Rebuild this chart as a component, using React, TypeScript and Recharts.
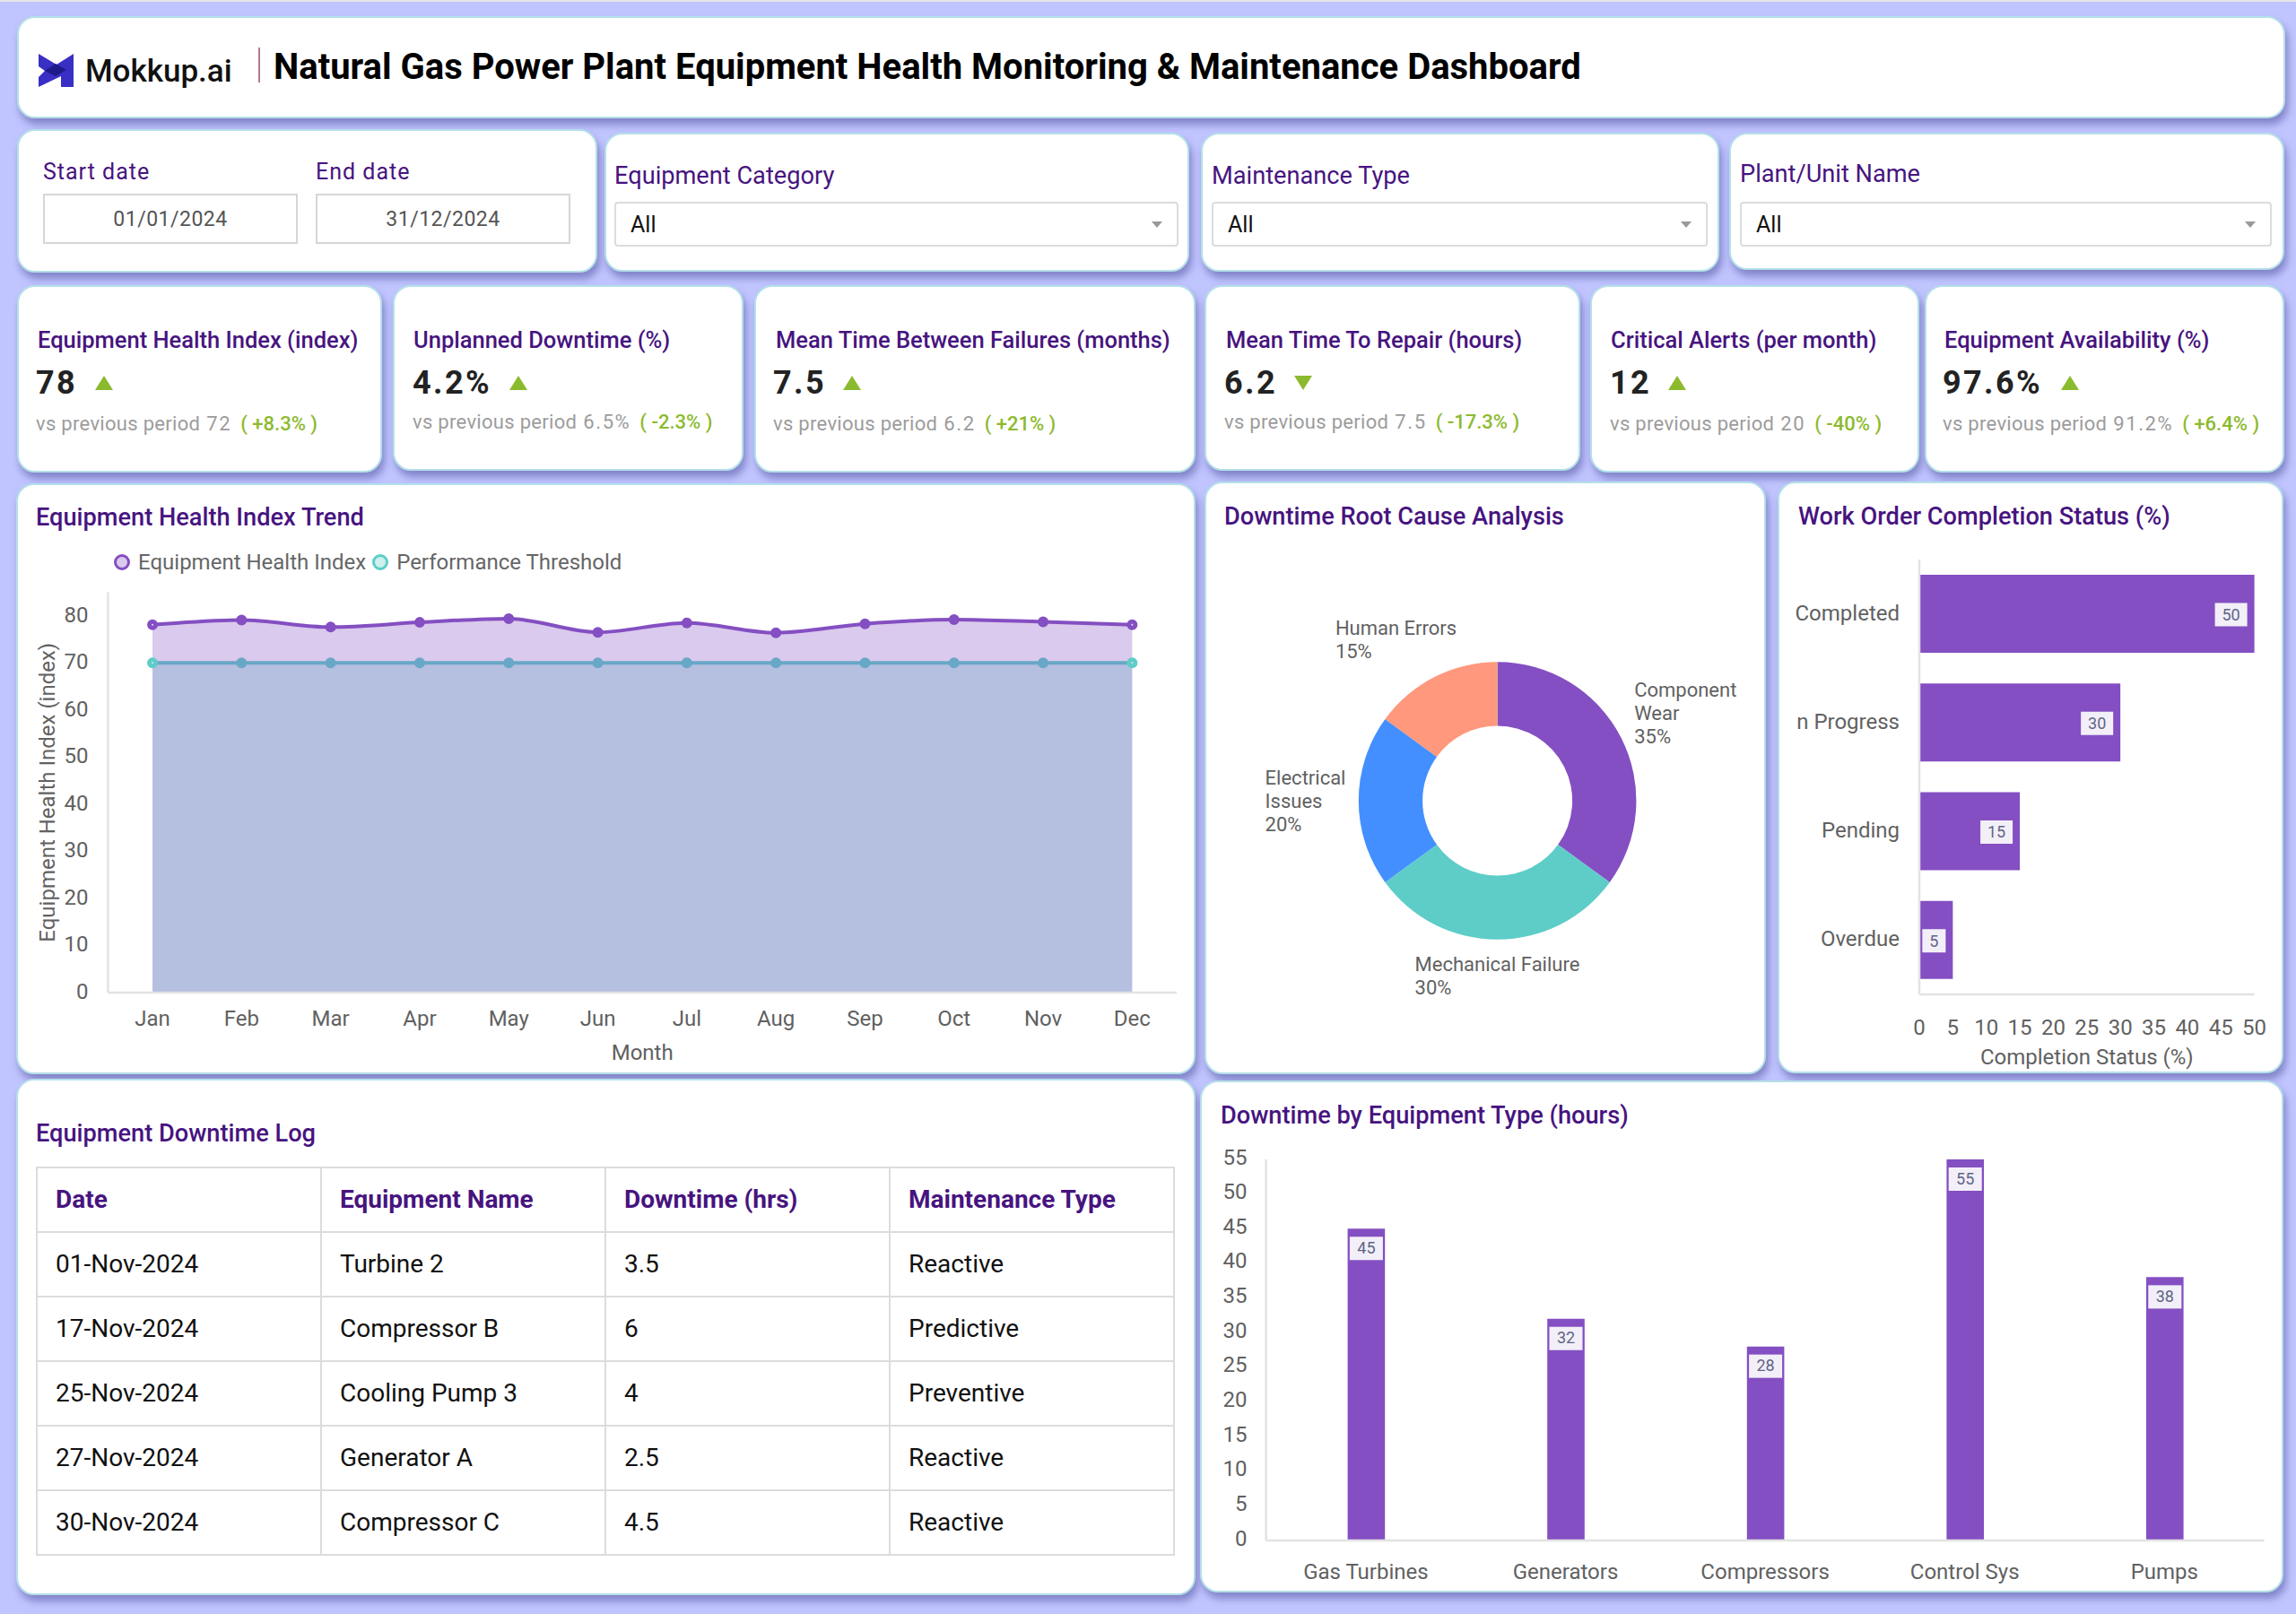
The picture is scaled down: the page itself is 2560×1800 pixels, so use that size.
import React from "react";
import {
  AreaChart,
  Area,
  BarChart,
  Bar,
  PieChart,
  Pie,
  Cell,
  XAxis,
  YAxis,
  Legend,
  LabelList,
} from "recharts";

const months = ["Jan", "Feb", "Mar", "Apr", "May", "Jun", "Jul", "Aug", "Sep", "Oct", "Nov", "Dec"];
const healthIndex = [78.1, 79.1, 77.6, 78.6, 79.4, 76.5, 78.5, 76.4, 78.3, 79.2, 78.7, 78.1];
const threshold = [70, 70, 70, 70, 70, 70, 70, 70, 70, 70, 70, 70];
const healthTicks = [0, 10, 20, 30, 40, 50, 60, 70, 80];

const causeNames = ["Component Wear", "Mechanical Failure", "Electrical Issues", "Human Errors"];
const causeLines = [["Component", "Wear"], ["Mechanical Failure"], ["Electrical", "Issues"], ["Human Errors"]];
const causeValues = [35, 30, 20, 15];

const orderStatus = ["Completed", "n Progress", "Pending", "Overdue"];
const orderValues = [50, 30, 15, 5];
const orderTicks = [0, 5, 10, 15, 20, 25, 30, 35, 40, 45, 50];

const equipmentTypes = ["Gas Turbines", "Generators", "Compressors", "Control Sys", "Pumps"];
const equipmentHours = [45, 32, 28, 55, 38];
const hourTicks = [0, 5, 10, 15, 20, 25, 30, 35, 40, 45, 50, 55];

const logHeaders = ["Date", "Equipment Name", "Downtime (hrs)", "Maintenance Type"];
const logRows = [
  ["01-Nov-2024", "Turbine 2", "3.5", "Reactive"],
  ["17-Nov-2024", "Compressor B", "6", "Predictive"],
  ["25-Nov-2024", "Cooling Pump 3", "4", "Preventive"],
  ["27-Nov-2024", "Generator A", "2.5", "Reactive"],
  ["30-Nov-2024", "Compressor C", "4.5", "Reactive"],
];

const kpis = [
  { title: "Equipment Health Index (index)", value: "78", up: true, prev: "72", delta: "+8.3%" },
  { title: "Unplanned Downtime (%)", value: "4.2%", up: true, prev: "6.5%", delta: "-2.3%" },
  { title: "Mean Time Between Failures (months)", value: "7.5", up: true, prev: "6.2", delta: "+21%" },
  { title: "Mean Time To Repair (hours)", value: "6.2", up: false, prev: "7.5", delta: "-17.3%" },
  { title: "Critical Alerts (per month)", value: "12", up: true, prev: "20", delta: "-40%" },
  { title: "Equipment Availability (%)", value: "97.6%", up: true, prev: "91.2%", delta: "+6.4%" },
];
// card box and text offsets of each kpi
const kpiBoxes = [
  { x: 20, w: 404, y: 319, h: 207, tx: 42, vx: 40, tri: 116, ty: 379, vy: 428, py: 473 },
  { x: 439, w: 388, y: 319, h: 205, tx: 461, vx: 460, tri: 578, ty: 379, vy: 428, py: 471 },
  { x: 842, w: 489, y: 319, h: 207, tx: 865, vx: 862, tri: 950, ty: 379, vy: 428, py: 473 },
  { x: 1344, w: 416, y: 319, h: 205, tx: 1367, vx: 1365, tri: 1453, ty: 379, vy: 428, py: 471 },
  { x: 1774, w: 364, y: 319, h: 207, tx: 1796, vx: 1795, tri: 1870, ty: 379, vy: 428, py: 473 },
  { x: 2147, w: 398, y: 319, h: 207, tx: 2168, vx: 2166, tri: 2308, ty: 379, vy: 428, py: 473 },
];

const PURPLE = "#844fc2";
const TEAL = "#5ecdc8";
const TEAL_UNDER = "#69a7c6"; // teal seen through the purple area
const NAVY = "#47147f";
const AXIS = "#e3e3e3";
const TICK = "#616161";
const FONT = "Roboto, sans-serif";
const THRESHOLD_LINE = "thresholdLine";
const causeColors = [PURPLE, TEAL, "#448fff", "#ff987c"];

const healthData = months.map((m, i) => ({ month: m, health: healthIndex[i], threshold: threshold[i] }));
const causeData = causeNames.map((n, i) => ({ name: n, value: causeValues[i] }));
const orderData = orderStatus.map((n, i) => ({ name: n, value: orderValues[i] }));
const hourData = equipmentTypes.map((n, i) => ({ name: n, value: equipmentHours[i] }));

function Card({ x, y, w, h }: any) {
  return (
    <div
      style={{
        position: "absolute",
        left: x - 1,
        top: y - 1,
        width: w + 3,
        height: h + 2,
        boxSizing: "border-box",
        background: "#fff",
        borderRadius: 20,
        border: "2px solid #b4e0e8",
        boxShadow: "3px 7px 9px rgba(90,90,165,0.6)",
      }}
    />
  );
}

function Txt({ x, y, size, color, weight, spacing, children, center }: any) {
  return (
    <div
      style={{
        position: "absolute",
        left: x,
        top: y,
        transform: center ? "translate(-50%,-50%)" : "translateY(-50%)",
        fontSize: size,
        color,
        fontWeight: weight || 400,
        letterSpacing: spacing || 0,
        whiteSpace: "nowrap",
        lineHeight: 1.2,
      }}
    >
      {children}
    </div>
  );
}

function Select({ label, labelY, x, w }: any) {
  return (
    <>
      <Txt x={x} y={labelY} size={27.2} color={NAVY}>{label}</Txt>
      <div
        style={{
          position: "absolute",
          left: x,
          top: 225,
          width: w,
          height: 50,
          boxSizing: "border-box",
          border: "2px solid #dcdcdc",
          borderRadius: 4,
        }}
      />
      <Txt x={x + 18} y={251} size={25} color="#111">All</Txt>
      <div
        style={{
          position: "absolute",
          left: x + w - 30,
          top: 247,
          width: 0,
          height: 0,
          borderLeft: "6px solid transparent",
          borderRight: "6px solid transparent",
          borderTop: "7px solid #999",
        }}
      />
    </>
  );
}

function Triangle({ x, y, up }: any) {
  const side = { borderLeft: "10px solid transparent", borderRight: "10px solid transparent" };
  const tip = up ? { borderBottom: "16px solid #8cba2e" } : { borderTop: "16px solid #8cba2e" };
  return <div style={{ position: "absolute", left: x - 10, top: y - 9, width: 0, height: 0, ...side, ...tip }} />;
}

function Kpi({ kpi, box }: any) {
  return (
    <>
      <Card x={box.x} y={box.y} w={box.w} h={box.h} />
      <Txt x={box.tx} y={box.ty} size={25.5} color={NAVY} weight={500}>{kpi.title}</Txt>
      <Txt x={box.vx} y={box.vy} size={36} color="#222" weight={700} spacing={2.4}>{kpi.value}</Txt>
      <Triangle x={box.tri} y={box.vy} up={kpi.up} />
      <Txt x={box.vx} y={box.py} size={22} color="#9c9c9c" spacing={0.3}>
        vs previous period
        <span style={{ marginLeft: 7, letterSpacing: 1.6 }}>{kpi.prev}</span>
        <span style={{ color: "#8cba2e", fontWeight: 500, fontSize: 22, marginLeft: 10, letterSpacing: 0 }}>( {kpi.delta} )</span>
      </Txt>
    </>
  );
}

function Logo() {
  return (
    <svg style={{ position: "absolute", left: 43, top: 60 }} width="40" height="37" viewBox="0 0 40 37">
      <path d="M0 0 L20 12 L39 0 V37 H25 V25 L0 37 V26 L7 19 L0 14 Z" fill="#3a2fc4" />
      <path d="M19 11 L31 18 L19 25 L7 19 Z" fill="#1e1a8a" />
    </svg>
  );
}

// legend drawn as two ringed dots with their series names
function HealthLegend({ payload }: any) {
  const items = (payload || []).filter((p: any) => p.value !== THRESHOLD_LINE);
  return (
    <div style={{ display: "flex", alignItems: "center", fontFamily: FONT, fontSize: 24, color: "#666", whiteSpace: "nowrap" }}>
      {items.map((p: any) => (
        <span key={p.value} style={{ display: "flex", alignItems: "center", marginRight: 6 }}>
          <svg width="20" height="20" style={{ marginRight: 8 }}>
            <circle cx="10" cy="10" r="7.5" fill={p.color} fillOpacity={0.3} stroke={p.color} strokeWidth={3} />
          </svg>
          {p.value}
        </span>
      ))}
    </div>
  );
}

function seriesDot(color: string, edgeColor: string) {
  return (props: any) => {
    const edge = props.index === 0 || props.index === months.length - 1;
    return (
      <circle
        key={props.index}
        cx={props.cx}
        cy={props.cy}
        r={3.5}
        fill={edge ? "#e8e0f5" : color}
        stroke={edge ? edgeColor : color}
        strokeWidth={5}
      />
    );
  };
}

function HealthChart() {
  return (
    <AreaChart
      width={1310}
      height={555}
      data={healthData}
      margin={{ top: 20.5, right: 18, bottom: 0, left: 0 }}
      style={{ position: "absolute", left: 20, top: 640 }}
    >
      <XAxis
        dataKey="month"
        height={88}
        padding={{ left: 49.65, right: 49.65 }}
        stroke={AXIS}
        strokeWidth={2.5}
        tickLine={false}
        tickMargin={14}
        tick={{ fill: TICK, fontSize: 24, fontFamily: FONT }}
        interval={0}
        label={{ value: "Month", position: "insideBottom", offset: 13, fill: TICK, fontSize: 24, fontFamily: FONT }}
      />
      <YAxis
        width={100.4}
        domain={[0, 85]}
        ticks={healthTicks}
        stroke={AXIS}
        strokeWidth={2.5}
        tickLine={false}
        tickMargin={16}
        tick={{ fill: TICK, fontSize: 24, fontFamily: FONT, dy: -1.5 }}
        label={{
          value: "Equipment Health Index (index)",
          angle: -90,
          position: "insideLeft",
          offset: 32,
          style: { textAnchor: "middle" },
          fill: TICK,
          fontSize: 24,
          fontFamily: FONT,
        }}
      />
      <Legend
        layout="horizontal"
        verticalAlign="middle"
        align="center"
        content={<HealthLegend />}
        wrapperStyle={{ left: 106, top: -27, width: 700 }}
      />
      <Area
        dataKey="threshold"
        name="Performance Threshold"
        type="monotone"
        stroke="none"
        fill={TEAL}
        fillOpacity={0.32}
        dot={false}
        isAnimationActive={false}
      />
      <Area
        dataKey="health"
        name="Equipment Health Index"
        type="monotone"
        stroke={PURPLE}
        strokeWidth={4}
        fill={PURPLE}
        fillOpacity={0.3}
        dot={seriesDot(PURPLE, PURPLE)}
        isAnimationActive={false}
      />
      <Area
        dataKey="threshold"
        name={THRESHOLD_LINE}
        legendType="none"
        type="monotone"
        stroke={TEAL_UNDER}
        strokeWidth={4}
        fill="none"
        dot={seriesDot(TEAL_UNDER, TEAL)}
        isAnimationActive={false}
      />
    </AreaChart>
  );
}

const RADIAN = Math.PI / 180;
// label offsets around the ring, per slice
const labelRadius = [215, 195, 215, 202];
const labelBlock = [78, 184, 88, 178];

function causeLabel(props: any) {
  const { cx, cy, midAngle, index } = props;
  const r = labelRadius[index];
  const left = cx + r * Math.cos(-midAngle * RADIAN) - labelBlock[index] / 2;
  const lines = [...causeLines[index], causeValues[index] + "%"];
  const top = cy + r * Math.sin(-midAngle * RADIAN) - ((lines.length - 1) * 26) / 2;
  return (
    <text x={left} y={top} fill={TICK} fontSize={22} fontFamily={FONT} dominantBaseline="central">
      {lines.map((l, i) => (
        <tspan key={l} x={left} dy={i === 0 ? 0 : 26}>
          {l}
        </tspan>
      ))}
    </text>
  );
}

function CauseChart() {
  return (
    <PieChart
      width={620}
      height={600}
      margin={{ top: 0, right: 0, bottom: 0, left: 0 }}
      style={{ position: "absolute", left: 1346, top: 593.4 }}
    >
      <Pie
        data={causeData}
        dataKey="value"
        nameKey="name"
        cx={323.6}
        cy={300}
        innerRadius={83.5}
        outerRadius={154.8}
        startAngle={90}
        endAngle={-270}
        stroke="none"
        label={causeLabel}
        labelLine={false}
        isAnimationActive={false}
      >
        {causeData.map((d, i) => (
          <Cell key={d.name} fill={causeColors[i]} />
        ))}
      </Pie>
    </PieChart>
  );
}

function endBoxLabel(props: any) {
  const { x, y, width, height, value } = props;
  const w = String(value).length > 1 ? 36 : 26;
  const left = x + width - w - 8;
  const mid = y + height / 2 + 1;
  return (
    <g>
      <rect x={left} y={mid - 13} width={w} height={26} fill="#f3eff9" />
      <text x={left + w / 2} y={mid} textAnchor="middle" dominantBaseline="central" fill="#5f6585" fontSize={18} fontFamily={FONT}>
        {value}
      </text>
    </g>
  );
}

function OrderChart() {
  return (
    <BarChart
      layout="vertical"
      width={550}
      height={585}
      data={orderData}
      margin={{ top: 14, right: 26.4, bottom: 0, left: 0 }}
      barCategoryGap="14%"
      style={{ position: "absolute", left: 1990, top: 610 }}
    >
      <XAxis
        type="number"
        domain={[0, 50]}
        ticks={orderTicks}
        interval={0}
        height={86}
        stroke={AXIS}
        strokeWidth={2.5}
        tickLine={false}
        tickMargin={22}
        tick={{ fill: TICK, fontSize: 24, fontFamily: FONT }}
        label={{ value: "Completion Status (%)", position: "insideBottom", offset: 8, fill: TICK, fontSize: 24, fontFamily: FONT }}
      />
      <YAxis
        type="category"
        dataKey="name"
        width={150}
        stroke={AXIS}
        strokeWidth={2.5}
        tickLine={false}
        tickMargin={16}
        tick={{ fill: TICK, fontSize: 24, fontFamily: FONT, dy: -1.5 }}
      />
      <Bar dataKey="value" fill={PURPLE} isAnimationActive={false}>
        <LabelList dataKey="value" content={endBoxLabel} />
      </Bar>
    </BarChart>
  );
}

function topBoxLabel(props: any) {
  const { x, y, width, value } = props;
  const mid = x + width / 2;
  return (
    <g>
      <rect x={mid - 18.5} y={y + 9} width={37} height={26} fill="#f3eff9" />
      <text x={mid} y={y + 21} textAnchor="middle" dominantBaseline="central" fill="#5f6585" fontSize={18} fontFamily={FONT}>
        {value}
      </text>
    </g>
  );
}

function HoursChart() {
  return (
    <BarChart
      width={1195}
      height={505}
      data={hourData}
      margin={{ top: 23, right: 15.4, bottom: 0, left: 0 }}
      barSize={41.6}
      style={{ position: "absolute", left: 1345, top: 1270 }}
    >
      <XAxis
        dataKey="name"
        height={57}
        interval={0}
        stroke={AXIS}
        strokeWidth={2.5}
        tickLine={false}
        tickMargin={20}
        tick={{ fill: TICK, fontSize: 24, fontFamily: FONT }}
      />
      <YAxis
        width={66.6}
        domain={[0, 55]}
        ticks={hourTicks}
        interval={0}
        stroke={AXIS}
        strokeWidth={2.5}
        tickLine={false}
        tickMargin={15}
        tick={{ fill: TICK, fontSize: 24, fontFamily: FONT, dy: -3 }}
      />
      <Bar dataKey="value" fill={PURPLE} isAnimationActive={false}>
        <LabelList dataKey="value" content={topBoxLabel} />
      </Bar>
    </BarChart>
  );
}

function LogTable() {
  const cell = { border: "2px solid #dcdcdc", padding: "0 0 2px 20px", height: 72, boxSizing: "border-box" as const };
  return (
    <table
      style={{
        position: "absolute",
        left: 40,
        top: 1301,
        width: 1270,
        borderCollapse: "collapse",
        tableLayout: "fixed",
        fontFamily: FONT,
        fontSize: 28,
      }}
    >
      <thead>
        <tr>
          {logHeaders.map((h) => (
            <th key={h} style={{ ...cell, textAlign: "left", color: NAVY, fontWeight: 700 }}>{h}</th>
          ))}
        </tr>
      </thead>
      <tbody>
        {logRows.map((row) => (
          <tr key={row[0]}>
            {row.map((c, i) => (
              <td key={i} style={{ ...cell, color: "#111" }}>{c}</td>
            ))}
          </tr>
        ))}
      </tbody>
    </table>
  );
}

export default function App() {
  return (
    <div
      style={{
        position: "fixed",
        left: 0,
        top: 0,
        width: 2560,
        height: 1800,
        background: "#c0c5ff",
        fontFamily: FONT,
        overflow: "hidden",
      }}
    >
      <div style={{ position: "absolute", left: 0, top: 0, width: 2560, height: 2, background: "#e6e6e6" }} />

      <Card x={20} y={19} w={2526} h={112} />
      <Logo />
      <Txt x={95} y={80} size={35} color="#111" weight={500}>Mokkup.ai</Txt>
      <div style={{ position: "absolute", left: 288, top: 53, width: 1.5, height: 39, background: "#b07a88" }} />
      <Txt x={305} y={75} size={40} color="#000" weight={700}>
        Natural Gas Power Plant Equipment Health Monitoring &amp; Maintenance Dashboard
      </Txt>

      <Card x={20} y={145} w={644} h={158} />
      <Txt x={48} y={192} size={25} color={NAVY} spacing={1}>Start date</Txt>
      <Txt x={352} y={192} size={25} color={NAVY} spacing={1}>End date</Txt>
      {[["01/01/2024", 48], ["31/12/2024", 352]].map(([d, x]: any) => (
        <div
          key={d}
          style={{
            position: "absolute",
            left: x,
            top: 216,
            width: 284,
            height: 56,
            boxSizing: "border-box",
            border: "2px solid #d6d6d6",
            textAlign: "center",
            lineHeight: "54px",
            fontSize: 23,
            color: "#555",
            letterSpacing: 0.5,
          }}
        >
          {d}
        </div>
      ))}

      <Card x={675} y={149} w={649} h={153} />
      <Select label="Equipment Category" labelY={196} x={685} w={629} />
      <Card x={1340} y={149} w={575} h={153} />
      <Select label="Maintenance Type" labelY={196} x={1351} w={553} />
      <Card x={1929} y={149} w={616} h={151} />
      <Select label="Plant/Unit Name" labelY={194} x={1940} w={593} />

      {kpis.map((k, i) => (
        <Kpi key={k.title} kpi={k} box={kpiBoxes[i]} />
      ))}

      <Card x={19} y={540} w={1312} h={657} />
      <Txt x={40} y={577} size={27.2} color={NAVY} weight={500}>Equipment Health Index Trend</Txt>
      <HealthChart />

      <Card x={1344} y={538} w={623} h={659} />
      <Txt x={1365} y={576} size={27.2} color={NAVY} weight={500}>Downtime Root Cause Analysis</Txt>
      <CauseChart />

      <Card x={1983} y={538} w={561} h={658} />
      <Txt x={2005} y={576} size={27.2} color={NAVY} weight={500}>Work Order Completion Status (%)</Txt>
      <OrderChart />

      <Card x={19} y={1204} w={1312} h={574} />
      <Txt x={40} y={1264} size={27.2} color={NAVY} weight={500}>Equipment Downtime Log</Txt>
      <LogTable />

      <Card x={1339} y={1206} w={1205} h={569} />
      <Txt x={1361} y={1244} size={27.2} color={NAVY} weight={500}>Downtime by Equipment Type (hours)</Txt>
      <HoursChart />
    </div>
  );
}
